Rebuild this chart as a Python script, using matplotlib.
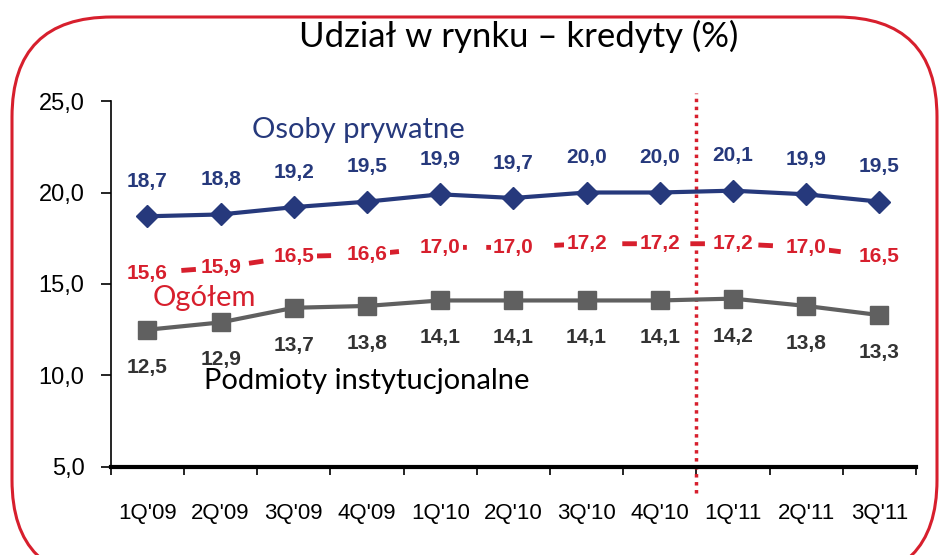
import numpy as np
import matplotlib.pyplot as plt
from matplotlib.patches import FancyBboxPatch
from matplotlib.ticker import FuncFormatter, FixedLocator

# data
quarters = ["1Q'09", "2Q'09", "3Q'09", "4Q'09", "1Q'10", "2Q'10",
            "3Q'10", "4Q'10", "1Q'11", "2Q'11", "3Q'11"]
osoby_prywatne = [18.7, 18.8, 19.2, 19.5, 19.9, 19.7, 20.0, 20.0, 20.1, 19.9, 19.5]
ogolem = [15.6, 15.9, 16.5, 16.6, 17.0, 17.0, 17.2, 17.2, 17.2, 17.0, 16.5]
podmioty = [12.5, 12.9, 13.7, 13.8, 14.1, 14.1, 14.1, 14.1, 14.2, 13.8, 13.3]

BLUE = '#26397c'
RED = '#d71f2d'
GREY = '#606060'
DGREY = '#333333'

plt.rcParams['font.family'] = ['Liberation Sans', 'DejaVu Sans']

fig = plt.figure(figsize=(9.39, 5.55), dpi=100)
ax = fig.add_axes([0.118, 0.1586, 0.8575, 0.6594])

# rounded red frame (in inches)
frame = FancyBboxPatch((0.12, -0.25), 9.25, 5.63,
                       boxstyle='round,pad=0,rounding_size=1.0',
                       transform=fig.dpi_scale_trans, fill=False,
                       edgecolor=RED, linewidth=2.2, zorder=0)
fig.patches.append(frame)

x = np.arange(len(quarters))
comma = lambda v: f'{v:.1f}'.replace('.', ',')

ax.plot(x, osoby_prywatne, color=BLUE, lw=3, marker='D', ms=11, zorder=4)
ax.plot(x, podmioty, color=GREY, lw=3, marker='s', ms=13, zorder=4)
ax.plot(x, ogolem, color=RED, lw=3.5, ls=(0, (3, 4)), zorder=3)

for xi, v in zip(x, osoby_prywatne):
    ax.annotate(comma(v), (xi, v), xytext=(0, 25), textcoords='offset points',
                ha='center', va='center', color=BLUE, fontsize=15,
                fontweight='bold', zorder=6)
for xi, v in zip(x, podmioty):
    ax.annotate(comma(v), (xi, v), xytext=(0, -27), textcoords='offset points',
                ha='center', va='center', color=DGREY, fontsize=15,
                fontweight='bold', zorder=6)
for xi, v in zip(x, ogolem):
    ax.text(xi, v, comma(v), ha='center', va='center', color=RED, fontsize=15,
            fontweight='bold', zorder=5,
            bbox=dict(boxstyle='square,pad=0.12', fc='white', ec='none'))

# series names
ax.text(1.43, 23.4, 'Osoby prywatne', color=BLUE, fontsize=21, ha='left',
        va='center', family=['Lato', 'DejaVu Sans'])
ax.text(0.07, 14.25, 'Ogółem', color=RED, fontsize=21, ha='left',
        va='center', family=['Lato', 'DejaVu Sans'])
ax.text(0.78, 9.7, 'Podmioty instytucjonalne', color='black', fontsize=21,
        ha='left', va='center', family=['Lato', 'DejaVu Sans'], zorder=7)

# separator between 2010 and 2011
ax.plot([7.5, 7.5], [3.6, 25.45], color=RED, lw=2.5, ls=(0, (1, 1.3)),
        clip_on=False, zorder=2)

ax.set_xlim(-0.5, len(quarters) - 0.5)
ax.set_ylim(5, 25)
ax.set_yticks([5, 10, 15, 20, 25])
ax.yaxis.set_major_formatter(FuncFormatter(lambda v, p: comma(v)))
ax.set_xticks(x)
ax.set_xticklabels(quarters)
ax.xaxis.set_minor_locator(FixedLocator(np.arange(-0.5, len(quarters), 1.0)))
ax.tick_params(axis='x', which='major', length=0, pad=26, labelsize=16)
ax.tick_params(axis='x', which='minor', length=6, width=1.2, direction='out')
ax.tick_params(axis='y', length=7, width=1.2, pad=12, labelsize=17)

for s in ['top', 'right']:
    ax.spines[s].set_visible(False)
ax.spines['left'].set_linewidth(1.2)
ax.spines['bottom'].set_linewidth(3)

fig.text(0.552, 0.935, 'Udział w rynku – kredyty (%)', ha='center',
         va='center', fontsize=25, family=['Lato', 'DejaVu Sans'])

fig.savefig('out.png', dpi=100)
